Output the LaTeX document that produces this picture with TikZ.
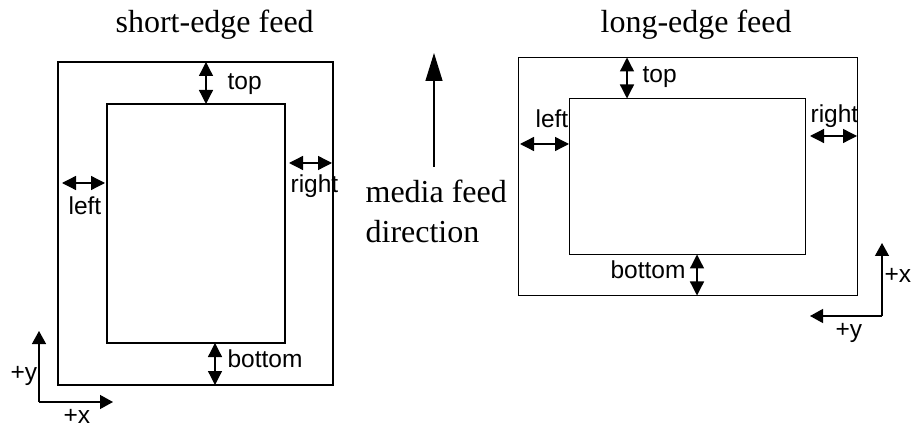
\documentclass[tikz,border=0pt]{standalone}
\usepackage{fontspec}
\setmainfont{Liberation Serif}
\setsansfont{Liberation Sans}
\usetikzlibrary{arrows.meta}
\begin{document}
\begin{tikzpicture}[x=1pt,y=-1pt,line width=1.2pt,
  box/.style={draw,line width=1.2pt,inner sep=0pt,outer sep=0pt},
  dbl/.style={{Triangle[length=14pt,width=14pt]}-{Triangle[length=14pt,width=14pt]},line width=1.3pt},
  axis/.style={-{Triangle[length=13pt,width=14pt]},line width=1.3pt},
  feedarrow/.style={-{Triangle[length=28pt,width=17pt]},line width=1.3pt},
  lab/.style={font=\sffamily\fontsize{24.5}{28}\selectfont,inner sep=0pt,anchor=base west},
  ttl/.style={font=\rmfamily\fontsize{32}{36}\selectfont,inner sep=0pt,anchor=base west}]
\useasboundingbox (0,0) rectangle (912,427);

% ---------- short-edge feed ----------
\node[ttl] (tS) at (115,33) {short-edge feed};
\node[box,minimum width=275pt,minimum height=323pt] (oL) at (195.5,223.5) {};
\node[box,minimum width=178pt,minimum height=239pt] (iL) at (196,223.5) {};
\coordinate (xTopL) at (206,0);
\coordinate (xBotL) at (215,0);
\draw[dbl] (oL.north -| xTopL) -- (iL.north -| xTopL);
\draw[dbl] (iL.south -| xBotL) -- (oL.south -| xBotL);
\coordinate (lL1) at (62,183);
\coordinate (lL2) at (105,183);
\draw[dbl] (lL1) -- (lL2);
\coordinate (rL1) at (289,163);
\coordinate (rL2) at (332,163);
\draw[dbl] (rL1) -- (rL2);
\node[lab] (topL) at (227,90) {top};
\node[lab] (botL) at (227,367) {bottom};
\node[lab] (leftL) at (68,215) {left};
\node[lab] (rightL) at (290,193) {right};
\coordinate (oAL) at (39,402);
\coordinate (yAL) at (39,331);
\coordinate (xAL) at (113,402);
\draw[axis] (oAL) -- (yAL);
\draw[axis] (oAL) -- (xAL);
\node[lab] (pyL) at (10,380) {+y};
\node[lab] (pxL) at (63,423) {+x};

% ---------- media feed direction ----------
\coordinate (mf1) at (434,167);
\coordinate (mf2) at (434,53);
\draw[feedarrow] (mf1) -- (mf2);
\node[ttl] (mfa) at (365,203) {media feed};
\node[ttl] (mfb) at (365,243) {direction};

% ---------- long-edge feed ----------
\node[ttl] (tLg) at (600,33) {long-edge feed};
\node[box,minimum width=339pt,minimum height=238pt] (oR) at (688,176.5) {};
\node[box,minimum width=236pt,minimum height=156pt] (iR) at (687.5,176.5) {};
\coordinate (xTopR) at (627,0);
\coordinate (xBotR) at (697,0);
\draw[dbl] (oR.north -| xTopR) -- (iR.north -| xTopR);
\draw[dbl] (iR.south -| xBotR) -- (oR.south -| xBotR);
\coordinate (lR1) at (520,144);
\coordinate (lR2) at (569,144);
\draw[dbl] (lR1) -- (lR2);
\coordinate (rR1) at (810,136);
\coordinate (rR2) at (857,136);
\draw[dbl] (rR1) -- (rR2);
\node[lab] (topR) at (642,83) {top};
\node[lab] (botR) at (610,279) {bottom};
\node[lab] (leftR) at (535,128) {left};
\node[lab] (rightR) at (810,123) {right};
\coordinate (oAR) at (882,316);
\coordinate (xAR) at (882,243);
\coordinate (yAR) at (810,316);
\draw[axis] (oAR) -- (xAR);
\draw[axis] (oAR) -- (yAR);
\node[lab] (pxR) at (884,283) {+x};
\node[lab] (pyR) at (835,337) {+y};
\end{tikzpicture}
\end{document}
